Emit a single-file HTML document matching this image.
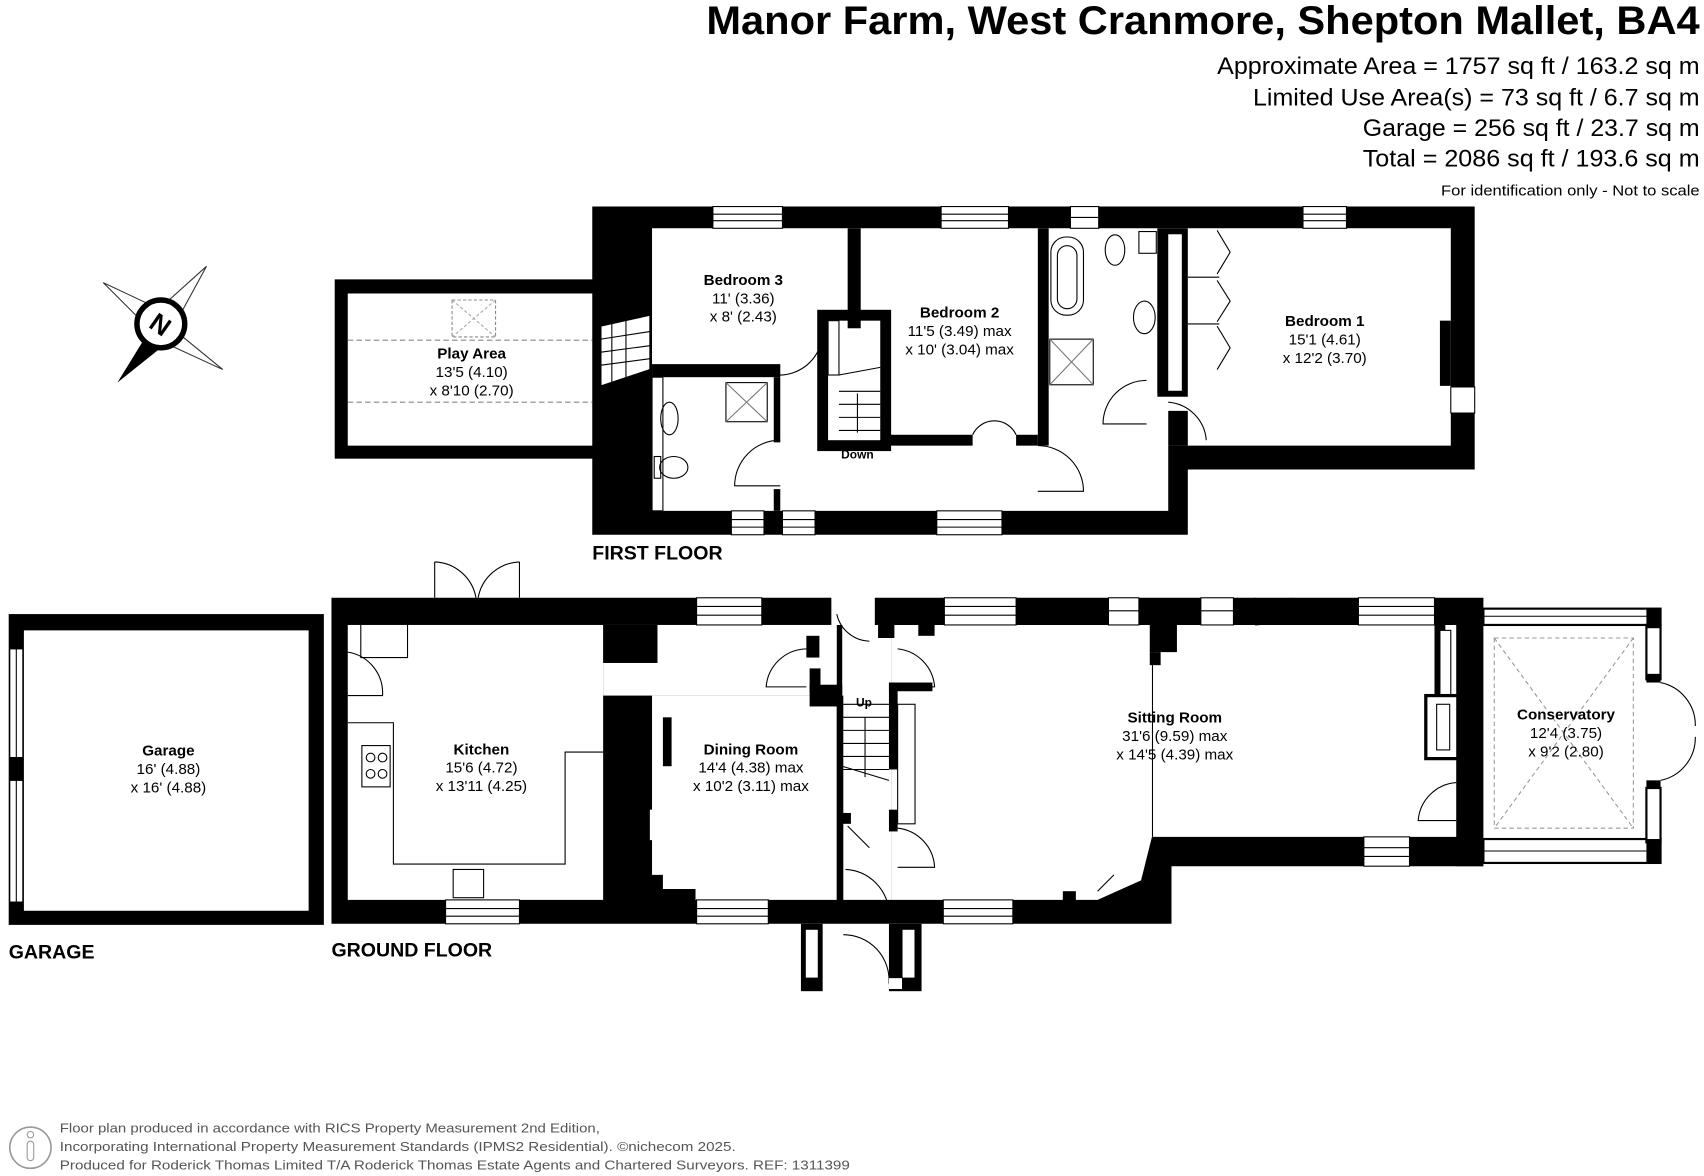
<!DOCTYPE html>
<html><head><meta charset="utf-8"><style>
html,body{margin:0;padding:0;background:#fff;}
svg{display:block;}
text{font-family:"Liberation Sans",Arial,sans-serif;}
</style></head><body>
<svg width="1704" height="1176" viewBox="0 0 1568 1082" xmlns="http://www.w3.org/2000/svg">
<rect width="1568" height="1082" fill="#fff"/>
<!-- Header -->
<text x="1564" y="31" text-anchor="end" font-size="37" font-weight="bold" textLength="914" lengthAdjust="spacingAndGlyphs">Manor Farm, West Cranmore, Shepton Mallet, BA4</text>
<g font-size="22" text-anchor="end">
<text x="1564" y="68" textLength="444" lengthAdjust="spacingAndGlyphs">Approximate Area = 1757 sq ft / 163.2 sq m</text>
<text x="1564" y="97" textLength="411" lengthAdjust="spacingAndGlyphs">Limited Use Area(s) = 73 sq ft / 6.7 sq m</text>
<text x="1564" y="125" textLength="310" lengthAdjust="spacingAndGlyphs">Garage = 256 sq ft / 23.7 sq m</text>
<text x="1564" y="153" textLength="310" lengthAdjust="spacingAndGlyphs">Total = 2086 sq ft / 193.6 sq m</text>
</g>
<text x="1564" y="180" text-anchor="end" font-size="14" textLength="238" lengthAdjust="spacingAndGlyphs">For identification only - Not to scale</text>

<!-- Compass -->
<g>
<polygon points="95,260 148,285 135,300" fill="#fff" stroke="#333" stroke-width="1"/>
<polygon points="190,245 140,290 160,300" fill="#fff" stroke="#333" stroke-width="1"/>
<polygon points="205,340 150,295 140,310" fill="#fff" stroke="#333" stroke-width="1"/>
<polygon points="108,352 140,300 158,312" fill="#000"/>
<circle cx="148" cy="298" r="22" fill="#fff" stroke="#000" stroke-width="5"/>
<text x="148" y="307" text-anchor="middle" font-size="24" font-weight="bold" transform="rotate(35 148 298)">N</text>
</g>

<!-- FIRST FLOOR -->
<g>
<rect x="308" y="257" width="240" height="165" fill="#000"/>
<rect x="320" y="270" width="228" height="140" fill="#fff"/>
<line x1="320" y1="313" x2="545" y2="313" stroke="#888" stroke-dasharray="5,3"/>
<line x1="320" y1="370" x2="545" y2="370" stroke="#888" stroke-dasharray="5,3"/>
<rect x="416" y="276" width="40" height="34" fill="none" stroke="#888" stroke-dasharray="3,2"/>
<line x1="416" y1="276" x2="456" y2="310" stroke="#aaa" stroke-dasharray="3,2"/>
<line x1="456" y1="276" x2="416" y2="310" stroke="#aaa" stroke-dasharray="3,2"/>
<polygon points="545,190 1357,190 1357,432 1093,432 1093,492 545,492" fill="#000"/>
<polygon points="600,210 1335,210 1335,410 1075,410 1075,470 600,470" fill="#fff"/>
<polygon points="553,300 598,290 598,340 553,355" fill="#fff" stroke="#000"/>
<g stroke="#000" stroke-width="1"><line x1="553" y1="312" x2="598" y2="305"/><line x1="553" y1="324" x2="598" y2="318"/><line x1="553" y1="336" x2="598" y2="330"/><line x1="563" y1="298" x2="563" y2="352"/><line x1="576" y1="295" x2="576" y2="348"/></g>
<rect x="780" y="210" width="12" height="92" fill="#000"/>
<rect x="600" y="335" width="118" height="12" fill="#000"/>
<rect x="600" y="347" width="10" height="123" fill="#fff" stroke="#000"/>
<rect x="712" y="347" width="6" height="60" fill="#000"/>
<rect x="712" y="450" width="6" height="20" fill="#000"/>
<rect x="757" y="290" width="58" height="120" fill="none" stroke="#000" stroke-width="10"/>
<rect x="762" y="295" width="10" height="50" fill="#fff" stroke="#000"/>
<g stroke="#000"><line x1="772" y1="345" x2="810" y2="338"/><line x1="772" y1="360" x2="810" y2="360"/><line x1="772" y1="372" x2="810" y2="372"/><line x1="772" y1="384" x2="810" y2="384"/><line x1="772" y1="396" x2="810" y2="396"/><line x1="789" y1="398" x2="789" y2="362"/></g>
<rect x="815" y="400" width="80" height="10" fill="#000"/>
<rect x="935" y="400" width="20" height="10" fill="#000"/>
<rect x="955" y="210" width="10" height="200" fill="#000"/>
<rect x="1065" y="210" width="28" height="155" fill="#000"/>
<rect x="1070" y="215" width="18" height="145" fill="#fff" stroke="#000"/>
<rect x="1065" y="212" width="10" height="150" fill="#000"/>
<rect x="1075" y="378" width="18" height="32" fill="#000"/>
<rect x="1325" y="295" width="10" height="60" fill="#000"/>
<g fill="#fff" stroke="#000" stroke-width="1">
<rect x="656" y="190" width="64" height="20"/><rect x="866" y="190" width="62" height="20"/><rect x="985" y="190" width="26" height="20"/><rect x="1199" y="190" width="40" height="20"/>
<rect x="673" y="470" width="30" height="22"/><rect x="720" y="470" width="30" height="22"/><rect x="862" y="470" width="60" height="22"/>
<rect x="1335" y="356" width="22" height="24"/>
</g>
<g stroke="#000"><line x1="656" y1="197" x2="720" y2="197"/><line x1="656" y1="203" x2="720" y2="203"/><line x1="866" y1="197" x2="928" y2="197"/><line x1="866" y1="203" x2="928" y2="203"/><line x1="985" y1="200" x2="1011" y2="200"/><line x1="1199" y1="197" x2="1239" y2="197"/><line x1="1199" y1="203" x2="1239" y2="203"/><line x1="673" y1="478" x2="703" y2="478"/><line x1="673" y1="485" x2="703" y2="485"/><line x1="720" y1="478" x2="750" y2="478"/><line x1="720" y1="485" x2="750" y2="485"/><line x1="862" y1="478" x2="922" y2="478"/><line x1="862" y1="485" x2="922" y2="485"/></g>
<g fill="none" stroke="#000">
<rect x="967" y="218" width="30" height="72" rx="14"/><rect x="973" y="226" width="18" height="58" rx="9"/>
<rect x="1020" y="196" width="20" height="12"/><ellipse cx="1026" cy="230" rx="9" ry="14"/>
<rect x="1048" y="213" width="16" height="20"/><ellipse cx="1053" cy="292" rx="10" ry="15"/>
<rect x="966" y="312" width="40" height="42"/><line x1="966" y1="312" x2="1006" y2="354" stroke="#777"/><line x1="1006" y1="312" x2="966" y2="354" stroke="#777"/>
<rect x="668" y="352" width="38" height="36"/><line x1="668" y1="352" x2="706" y2="388" stroke="#777"/><line x1="706" y1="352" x2="668" y2="388" stroke="#777"/>
<ellipse cx="616" cy="385" rx="8" ry="15"/><ellipse cx="620" cy="430" rx="13" ry="10"/><rect x="602" y="420" width="6" height="20"/>
<path d="M718 405 A42 42 0 0 0 676 447 L718 447"/><path d="M715 345 A40 40 0 0 0 757 305"/>
<path d="M955 410 A42 42 0 0 1 997 452 L955 452"/><path d="M895 400 A22 22 0 0 1 935 400"/>
<path d="M1055 350 A40 40 0 0 0 1015 390 L1055 390"/><path d="M1075 370 A38 38 0 0 1 1110 405"/>
<path d="M1120 212 L1132 232 L1120 252 M1120 258 L1132 277 L1120 296 M1120 300 L1132 320 L1120 340"/>
<line x1="1093" y1="255" x2="1122" y2="255"/><line x1="1093" y1="298" x2="1122" y2="298"/>
</g>
<g font-size="14" text-anchor="middle">
<text x="684" y="262" font-weight="bold">Bedroom 3</text><text x="684" y="279">11' (3.36)</text><text x="684" y="296">x 8' (2.43)</text>
<text x="883" y="292" font-weight="bold">Bedroom 2</text><text x="883" y="309">11'5 (3.49) max</text><text x="883" y="326">x 10' (3.04) max</text>
<text x="1219" y="300" font-weight="bold">Bedroom 1</text><text x="1219" y="317">15'1 (4.61)</text><text x="1219" y="334">x 12'2 (3.70)</text>
<text x="434" y="330" font-weight="bold">Play Area</text><text x="434" y="347">13'5 (4.10)</text><text x="434" y="364">x 8'10 (2.70)</text>
<text x="789" y="422" font-size="11" font-weight="bold">Down</text>
</g>
<text x="545" y="515" font-size="18" font-weight="bold">FIRST FLOOR</text>
</g>

<!-- GARAGE -->
<rect x="8" y="565" width="290" height="286" fill="#000"/>
<rect x="22" y="580" width="262" height="258" fill="#fff"/>
<rect x="9" y="597" width="12" height="100" fill="#fff" stroke="#000"/><rect x="9" y="718" width="12" height="112" fill="#fff" stroke="#000"/>
<line x1="15" y1="597" x2="15" y2="697" stroke="#000"/><line x1="15" y1="718" x2="15" y2="830" stroke="#000"/>
<g font-size="14" text-anchor="middle"><text x="155" y="695" font-weight="bold">Garage</text><text x="155" y="712">16' (4.88)</text><text x="155" y="729">x 16' (4.88)</text></g>
<text x="8" y="882" font-size="18" font-weight="bold">GARAGE</text>

<!-- GROUND FLOOR -->
<g>
<polygon points="305,550 765,550 765,575 805,575 805,550 1365,550 1365,797 1078,797 1078,850 305,850" fill="#000"/>
<rect x="320" y="575" width="235" height="253" fill="#fff"/>
<rect x="555" y="575" width="215" height="65" fill="#fff"/>
<polygon points="600,640 770,640 770,828 640,828 640,818 610,818 610,805 600,805" fill="#fff"/>
<rect x="610" y="660" width="8" height="45" fill="#000"/>
<rect x="598" y="745" width="8" height="28" fill="#fff"/>
<polygon points="775,575 820,575 820,828 775,828" fill="#fff"/>
<polygon points="820,575 1350,575 1350,770 1060,770 1050,810 1010,828 820,828" fill="#fff"/>
<rect x="555" y="575" width="50" height="35" fill="#000"/>
<rect x="742" y="585" width="12" height="20" fill="#000"/>
<rect x="1058" y="575" width="25" height="25" fill="#000"/>
<rect x="1058" y="600" width="10" height="12" fill="#000"/>
<rect x="845" y="575" width="15" height="10" fill="#000"/>
<rect x="808" y="575" width="15" height="12" fill="#000"/>
<rect x="745" y="630" width="30" height="20" fill="#000"/>
<rect x="745" y="615" width="10" height="22" fill="#000"/>
<rect x="770" y="640" width="6" height="190" fill="#000"/>
<rect x="818" y="628" width="8" height="80" fill="#000"/>
<rect x="818" y="628" width="40" height="8" fill="#000"/>
<rect x="826" y="648" width="16" height="110" fill="#fff" stroke="#000"/>
<rect x="818" y="745" width="8" height="20" fill="#000"/>
<rect x="775" y="748" width="8" height="10" fill="#000"/>
<rect x="1060" y="582" width="1" height="188" fill="#000"/>
<rect x="1320" y="575" width="10" height="100" fill="#000"/>
<rect x="1325" y="580" width="10" height="60" fill="#fff" stroke="#000"/>
<rect x="1312" y="640" width="30" height="58" fill="#fff" stroke="#000" stroke-width="3"/>
<rect x="1322" y="648" width="12" height="42" fill="#fff" stroke="#000"/>
<rect x="1340" y="575" width="25" height="222" fill="#000"/>
<rect x="978" y="820" width="12" height="10" fill="#000"/>
<line x1="1010" y1="820" x2="1025" y2="805" stroke="#000"/>
<g fill="none" stroke="#000">
<path d="M332 575 L332 605 L375 605 L375 575"/>
<path d="M320 665 L362 665 L362 795 L520 795 L520 692 L555 692"/>
<rect x="333" y="686" width="26" height="38"/>
<circle cx="341" cy="697" r="4"/><circle cx="352" cy="697" r="4"/><circle cx="341" cy="712" r="4"/><circle cx="352" cy="712" r="4"/>
<rect x="417" y="800" width="28" height="26"/>
<path d="M320 600 A38 38 0 0 1 352 640 L320 640"/>
<path d="M400 517 L400 550 M400 517 A40 40 0 0 1 438 550 M478 517 L478 550 M478 517 A40 40 0 0 0 440 550"/>
<path d="M770 565 A32 32 0 0 0 800 590"/>
<path d="M742 597 A38 38 0 0 0 705 632 L742 632 M826 597 A38 38 0 0 1 860 632 L826 632"/>
<path d="M780 760 L800 780 M826 762 A38 38 0 0 1 860 798 L826 798"/>
<path d="M778 800 A42 42 0 0 1 818 840 M776 860 A42 42 0 0 1 818 905"/>
<path d="M1155 550 L1155 575 M1155 575 A40 40 0 0 0 1190 550"/>
<path d="M1340 720 A38 38 0 0 0 1305 755 L1340 755"/>
</g>
<g stroke="#000">
<line x1="775" y1="648" x2="818" y2="648"/>
<line x1="775" y1="660" x2="818" y2="660"/><line x1="775" y1="672" x2="818" y2="672"/><line x1="775" y1="684" x2="818" y2="684"/><line x1="775" y1="696" x2="818" y2="696"/><line x1="775" y1="708" x2="818" y2="708"/>
<line x1="796" y1="660" x2="796" y2="715"/>
<line x1="775" y1="705" x2="818" y2="718"/>
</g>
<g fill="#fff" stroke="#000">
<rect x="641" y="550" width="60" height="25"/><rect x="869" y="550" width="66" height="25"/><rect x="1020" y="550" width="28" height="25"/><rect x="1105" y="550" width="30" height="25"/><rect x="1250" y="550" width="70" height="25"/>
<rect x="410" y="828" width="68" height="22"/><rect x="641" y="828" width="66" height="22"/><rect x="868" y="828" width="64" height="22"/><rect x="1255" y="770" width="42" height="27"/>
</g>
<g stroke="#000">
<line x1="641" y1="558" x2="701" y2="558"/><line x1="641" y1="566" x2="701" y2="566"/><line x1="869" y1="558" x2="935" y2="558"/><line x1="869" y1="566" x2="935" y2="566"/><line x1="1020" y1="562" x2="1048" y2="562"/><line x1="1105" y1="562" x2="1135" y2="562"/><line x1="1250" y1="558" x2="1320" y2="558"/><line x1="1250" y1="566" x2="1320" y2="566"/>
<line x1="410" y1="836" x2="478" y2="836"/><line x1="410" y1="843" x2="478" y2="843"/><line x1="641" y1="836" x2="707" y2="836"/><line x1="641" y1="843" x2="707" y2="843"/><line x1="868" y1="836" x2="932" y2="836"/><line x1="868" y1="843" x2="932" y2="843"/><line x1="1255" y1="780" x2="1297" y2="780"/><line x1="1255" y1="788" x2="1297" y2="788"/>
</g>
<rect x="737" y="850" width="20" height="62" fill="#000"/><rect x="741" y="855" width="12" height="45" fill="#fff" stroke="#000"/>
<rect x="818" y="850" width="30" height="62" fill="#000"/><rect x="830" y="855" width="12" height="45" fill="#fff" stroke="#000"/>
<rect x="818" y="900" width="12" height="10" fill="#fff"/>
<rect x="1365" y="560" width="163" height="237" fill="#fff"/>
<rect x="1365" y="560" width="163" height="15" fill="#fff" stroke="#000" stroke-width="2"/>
<rect x="1365" y="772" width="163" height="22" fill="#fff" stroke="#000" stroke-width="2"/>
<rect x="1515" y="575" width="13" height="50" fill="#fff" stroke="#000" stroke-width="2"/>
<rect x="1515" y="725" width="13" height="50" fill="#fff" stroke="#000" stroke-width="2"/>
<rect x="1515" y="560" width="13" height="18" fill="#000"/><rect x="1515" y="620" width="13" height="8" fill="#000"/><rect x="1515" y="718" width="13" height="8" fill="#000"/><rect x="1515" y="772" width="13" height="22" fill="#000"/>
<line x1="1365" y1="567" x2="1515" y2="567" stroke="#000"/><line x1="1365" y1="783" x2="1515" y2="783" stroke="#000"/>
<g fill="none" stroke="#000"><path d="M1528 628 A40 40 0 0 1 1560 668 M1528 718 A40 40 0 0 0 1560 678"/></g>
<g fill="none" stroke="#999" stroke-dasharray="4,3"><rect x="1375" y="587" width="128" height="175"/><line x1="1375" y1="587" x2="1503" y2="762"/><line x1="1503" y1="587" x2="1375" y2="762"/></g>
<g font-size="14" text-anchor="middle">
<text x="443" y="694" font-weight="bold">Kitchen</text><text x="443" y="711">15'6 (4.72)</text><text x="443" y="728">x 13'11 (4.25)</text>
<text x="691" y="694" font-weight="bold">Dining Room</text><text x="691" y="711">14'4 (4.38) max</text><text x="691" y="728">x 10'2 (3.11) max</text>
<text x="1081" y="665" font-weight="bold">Sitting Room</text><text x="1081" y="682">31'6 (9.59) max</text><text x="1081" y="699">x 14'5 (4.39) max</text>
<text x="1441" y="662" font-weight="bold">Conservatory</text><text x="1441" y="679">12'4 (3.75)</text><text x="1441" y="696">x 9'2 (2.80)</text>
<text x="795" y="650" font-size="11" font-weight="bold">Up</text>
</g>
<text x="305" y="880" font-size="18" font-weight="bold">GROUND FLOOR</text>
</g>

<circle cx="28" cy="1056" r="19" fill="none" stroke="#999" stroke-width="1.5"/>
<rect x="25" y="1050" width="6" height="18" rx="3" fill="none" stroke="#999"/><circle cx="28" cy="1044" r="3" fill="none" stroke="#999"/>
<g font-size="12" fill="#555">
<text x="55" y="1042" textLength="497" lengthAdjust="spacingAndGlyphs">Floor plan produced in accordance with RICS Property Measurement 2nd Edition,</text>
<text x="55" y="1059" textLength="622" lengthAdjust="spacingAndGlyphs">Incorporating International Property Measurement Standards (IPMS2 Residential).   ©nichecom 2025.</text>
<text x="55" y="1076" textLength="727" lengthAdjust="spacingAndGlyphs">Produced for Roderick Thomas Limited T/A Roderick Thomas Estate Agents and Chartered Surveyors.   REF: 1311399</text>
</g>
</svg>
</body></html>
